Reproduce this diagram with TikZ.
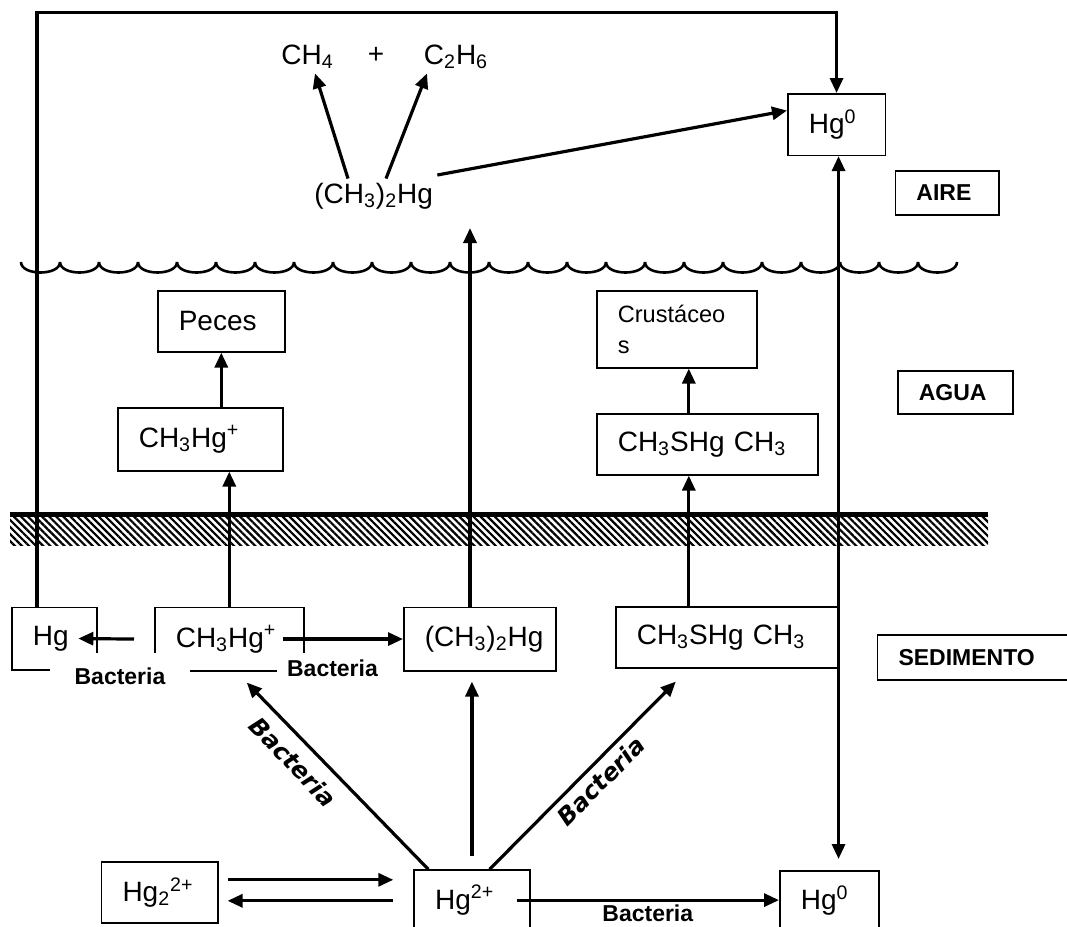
\documentclass[tikz,border=0pt]{standalone}
\usepackage{fontspec}
\setmainfont{Liberation Sans}
\newfontfamily\bactfont{DejaVu Sans}
\usetikzlibrary{arrows.meta,patterns.meta}
\newcommand{\sbs}[1]{\textsubscript{#1}}
\newcommand{\sps}[1]{\textsuperscript{#1}}
\tikzset{
  box/.style    ={draw=black, line width=0.8pt, anchor=north west,
                  inner xsep=10.5pt, inner ysep=0pt, align=left,
                  font=\fontsize{14}{17}\selectfont},
  regbox/.style ={box, font=\bfseries\fontsize{11.5}{14}\selectfont},
  txt/.style    ={font=\fontsize{14}{17}\selectfont, inner sep=2pt},
  lbl/.style    ={font=\bfseries\fontsize{11.5}{14}\selectfont, inner sep=1pt},
  diag/.style   ={font=\bactfont\bfseries\itshape\fontsize{12}{14}\selectfont},
  arr/.style    ={-{Triangle[length=7.5pt,width=6.5pt]}, line width=1.6pt},
  dbl/.style    ={{Triangle[length=7.5pt,width=6.5pt]}-{Triangle[length=7.5pt,width=6.5pt]},
                  line width=1.6pt},
  wave/.style   ={line width=1.3pt},
}

\begin{document}
\begin{tikzpicture}[x=0.5pt,y=-0.5pt]
  \path[use as bounding box, fill=white] (0,0) rectangle (1067,927);

  % aire
  \node[txt] (ch4)  at (307.5,57) {CH\sbs{4}};
  \node[txt] (plus) at (376,55)   {+};
  \node[txt] (c2h6) at (456,57)   {C\sbs{2}H\sbs{6}};
  \node[txt] (dair) at (373.6,196) {(CH\sbs{3})\sbs{2}Hg};
  \node[box, text width=27.75pt, minimum height=30.75pt] (hgair) at (787,93) {Hg\sps{0}};
  \node[regbox, text width=30.7pt, minimum height=22pt] (aire) at (894.6,170) {AIRE};

  % water surface
  \foreach \i in {0,...,23}
    \draw[wave] ({21+39*\i},262) .. controls ({21+39*\i},276) and ({60+39*\i},276) .. ({60+39*\i},262);

  % agua
  \node[box, text width=42.5pt, minimum height=30.5pt] (peces) at (157,290) {Peces};
  \node[box, text width=61.5pt, minimum height=31.5pt] (cwat) at (117,407) {CH\sbs{3}Hg\sps{+}};
  \node[box, text width=59pt, minimum height=38.5pt,
        font=\fontsize{11.8}{15.5}\selectfont] (crus) at (596,290) {Crustáceo\\s};
  \node[box, text width=89.5pt, minimum height=30.5pt] (swat) at (596,413) {CH\sbs{3}SHg CH\sbs{3}};
  \node[regbox, text width=36.5pt, minimum height=21.5pt] (agua) at (897,370) {AGUA};

  % sediment line
  \fill (10,512) rectangle (988,517);
  \fill[pattern={Lines[angle=-45,distance=2.5pt,line width=1.1pt]}] (10,517) rectangle (988,545);

  % sedimento
  \node[box, text width=21.5pt, minimum height=31.25pt] (hg) at (11,606.5) {Hg};
  \node[box, text width=53.5pt, minimum height=31.75pt] (csed) at (154,606.5) {CH\sbs{3}Hg\sps{+}};
  \node[box, text width=55pt, minimum height=31.75pt] (dsed) at (403,606.5) {(CH\sbs{3})\sbs{2}Hg};
  \node[box, text width=90pt, minimum height=30.5pt] (ssed) at (615,606) {CH\sbs{3}SHg CH\sbs{3}};
  \node[regbox, text width=74pt, minimum height=22.5pt] (sedim) at (876.7,634) {SEDIMENTO};
  \node[lbl, fill=white, minimum width=70pt, minimum height=23pt] (bac1) at (120,676) {Bacteria};
  \node[lbl, fill=white, minimum width=56pt, minimum height=15.5pt] (bac2) at (332.5,668.5) {Bacteria};

  \node[box, text width=37.15pt, minimum height=30.5pt] (hg22) at (100.7,861) {Hg\sbs{2}\sps{2+}};
  \node[box, text width=36.85pt, minimum height=30pt] (hg2) at (413.3,869.3) {Hg\sps{2+}};
  \node[box, text width=28.5pt, minimum height=30pt] (hgsed) at (779,870) {Hg\sps{0}};

  \coordinate (wtop) at (470,228);

  % connectors
  \draw[arr] ([xshift=13pt]hg.north west) |- ([yshift=40.25pt]hgair.north) -- (hgair.north);
  \draw[arr] ([xshift=-12.8pt]dair.north) -- ([xshift=3.75pt]ch4.south);
  \draw[arr] ([xshift=6.2pt]dair.north) -- ([xshift=-14.5pt]c2h6.south);
  \draw[arr] ([yshift=10.5pt]dair.east) -- ([yshift=7pt]hgair.west);
  \draw[dbl, shorten >=5.5pt] ([xshift=1pt]hgair.south) -- ([xshift=1pt]hgair.south |- hgsed.north);
  \draw[arr] (dsed.north -| wtop) -- (wtop);

  \draw[arr] (peces.south |- cwat.north) -- (peces.south);
  \draw[arr] ([xshift=-9.25pt]swat.north) -- ([xshift=-9.25pt]swat.north |- crus.south);
  \draw[arr] (csed.north) -- (csed.north |- cwat.south);
  \draw[arr] ([xshift=-19pt]ssed.north) -- ([xshift=-19pt]ssed.north |- swat.south);

  \draw[arr] ([xshift=-10pt]csed.west) -- ([xshift=-9.65pt]hg.east);
  \draw[arr] ([xshift=-11pt]csed.east) -- (dsed.west);

  \draw[arr] ([xshift=7.5pt]hg2.north west) -- ([xshift=8.75pt,yshift=-5.5pt]csed.south);
  \draw[arr, shorten <=6.5pt, shorten >=5pt] (hg2.north) -- (hg2.north |- dsed.south);
  \draw[arr] ([xshift=-20.5pt]hg2.north east) -- ([xshift=-25.5pt,yshift=-6.5pt]ssed.south);
  \node[diag, rotate=-46] (bacl) at (293,762) {Bacteria};
  \node[diag, rotate=45]  (bacr) at (601,781) {Bacteria};

  \draw[arr, shorten <=4.5pt, shorten >=10pt] ([yshift=6.25pt]hg22.east) -- ([yshift=6.25pt]hg22.east -| hg2.west);
  \draw[arr, shorten <=10pt, shorten >=4.5pt] ([yshift=-4.25pt]hg22.east -| hg2.west) -- ([yshift=-4.25pt]hg22.east);
  \draw[arr] ([xshift=-7pt]hg2.east) -- node[lbl, below=0.5pt] {Bacteria} (hg2.east -| hgsed.west);
\end{tikzpicture}
\end{document}
